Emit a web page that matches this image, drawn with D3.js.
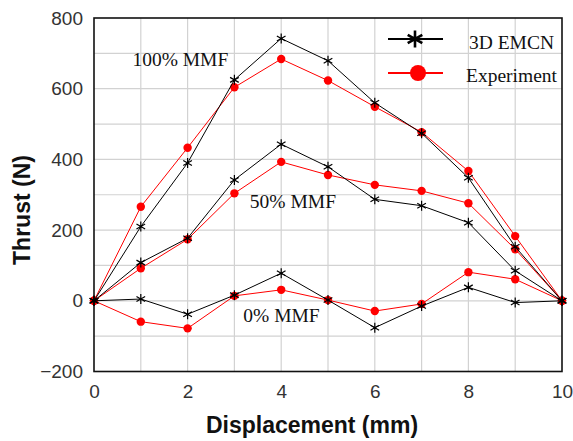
<!DOCTYPE html>
<html><head><meta charset="utf-8">
<script src="https://cdn.jsdelivr.net/npm/d3@7"></script>
<style>body{margin:0;background:#fff}svg{display:block}</style>
</head><body>
<svg id="c" width="573" height="441"></svg>
<script>
const displacement = [0,1,2,3,4,5,6,7,8,9,10];
const emcn100 = [0,210,390,625,742,679,560,474,348,153,0];
const exp100  = [0,266,433,604,684,623,549,477,367,183,0];
const emcn50  = [0,108,177,342,443,379,287,269,221,85,0];
const exp50   = [0,92,174,304,393,356,328,311,276,146,0];
const emcn0   = [0,5,-38,16,78,2,-76,-15,38,-5,0];
const exp0    = [0,-59,-78,14,31,2,-29,-9,81,61,0];
const xTicks = [0,2,4,6,8,10];
const yTicks = [-200,0,200,400,600,800];
const xGrid = [1,2,3,4,5,6,7,8,9];
const yGrid = [-100,0,100,200,300,400,500,600,700];
const annotations = [
  {text:"100% MMF", x:0.82, y:664},
  {text:"50% MMF", x:3.33, y:262},
  {text:"0% MMF", x:3.19, y:-59}
];
const legendItems = ["3D EMCN","Experiment"];

const svg = d3.select("#c");
const L=94, R=562, T=18, B=371.5;
const x = d3.scaleLinear().domain([0,10]).range([L,R]);
const y = d3.scaleLinear().domain([-200,800]).range([B,T]);

// grid
svg.append("g").selectAll("line").data(xGrid).join("line")
  .attr("x1",d=>x(d)).attr("x2",d=>x(d)).attr("y1",T).attr("y2",B)
  .attr("stroke","#d2d2d2").attr("stroke-width",1.2);
svg.append("g").selectAll("line").data(yGrid).join("line")
  .attr("y1",d=>y(d)).attr("y2",d=>y(d)).attr("x1",L).attr("x2",R)
  .attr("stroke","#d2d2d2").attr("stroke-width",1.2);

// axes
const xAxis = svg.append("g").attr("transform",`translate(0,${B})`)
  .call(d3.axisBottom(x).tickValues(xTicks).tickFormat(d3.format("d")).tickSize(0).tickPadding(13));
const yAxis = svg.append("g").attr("transform",`translate(${L},0)`)
  .call(d3.axisLeft(y).tickValues(yTicks).tickFormat(d3.format("d")).tickSize(0).tickPadding(11));
[xAxis,yAxis].forEach(a=>{
  a.select(".domain").remove();
  a.selectAll("text").attr("font-family","Liberation Sans, Arial, sans-serif")
   .attr("font-size",19).attr("fill","#333");
});
svg.append("rect").attr("x",L).attr("y",T).attr("width",R-L).attr("height",B-T)
  .attr("fill","none").attr("stroke","#111").attr("stroke-width",1.6);

// series
const series = [
  {vals:exp100, color:"red", marker:"circle"},
  {vals:exp50, color:"red", marker:"circle"},
  {vals:exp0, color:"red", marker:"circle"},
  {vals:emcn100, color:"black", marker:"star"},
  {vals:emcn50, color:"black", marker:"star"},
  {vals:emcn0, color:"black", marker:"star"}
];
const line = d3.line().x((d,i)=>x(displacement[i])).y(d=>y(d));
const star = d3.symbol().type(d3.symbolAsterisk);
series.forEach(s=>{
  svg.append("path").attr("d",line(s.vals)).attr("fill","none")
    .attr("stroke",s.color).attr("stroke-width",1);
  const g = svg.append("g");
  if(s.marker==="circle"){
    g.selectAll("circle").data(s.vals).join("circle")
      .attr("cx",(d,i)=>x(displacement[i])).attr("cy",d=>y(d)).attr("r",4.2).attr("fill","red");
  } else {
    g.selectAll("path").data(s.vals).join("path")
      .attr("d",star.size(70)())
      .attr("transform",(d,i)=>`translate(${x(displacement[i])},${y(d)})`)
      .attr("stroke","black").attr("stroke-width",1.2).attr("fill","none");
  }
});

// annotations
svg.append("g").selectAll("text").data(annotations).join("text")
  .attr("x",d=>x(d.x)).attr("y",d=>y(d.y)).text(d=>d.text)
  .attr("font-family","Liberation Serif, Times New Roman, serif").attr("font-size",19.5).attr("fill","#111");

// legend
const lg = svg.append("g");
const ly = [39,73];
lg.append("line").attr("x1",388).attr("x2",443).attr("y1",ly[0]).attr("y2",ly[0]).attr("stroke","black").attr("stroke-width",2);
lg.append("path").attr("d",d3.symbol().type(d3.symbolAsterisk).size(200)()).attr("transform",`translate(415,${ly[0]})`)
  .attr("stroke","black").attr("stroke-width",2.6).attr("fill","none");
lg.append("line").attr("x1",388).attr("x2",443).attr("y1",ly[1]).attr("y2",ly[1]).attr("stroke","red").attr("stroke-width",2);
lg.append("circle").attr("cx",418).attr("cy",ly[1]).attr("r",8).attr("fill","red");
lg.selectAll("text").data(legendItems).join("text")
  .attr("x",(d,i)=>i===0?469:466).attr("y",(d,i)=>i===0?48.5:82).text(d=>d)
  .attr("font-family","Liberation Serif, Times New Roman, serif").attr("font-size",19.5).attr("fill","#111");

// axis titles
svg.append("text").attr("x",(L+R)/2-16).attr("y",433).attr("text-anchor","middle")
  .attr("font-family","Liberation Sans, Arial, sans-serif").attr("font-weight","bold").attr("font-size",23)
  .attr("fill","#111").text("Displacement (mm)");
svg.append("text").attr("transform","translate(30,210) rotate(-90)").attr("text-anchor","middle")
  .attr("font-family","Liberation Sans, Arial, sans-serif").attr("font-weight","bold").attr("font-size",23)
  .attr("fill","#111").text("Thrust (N)");
</script>
</body></html>
